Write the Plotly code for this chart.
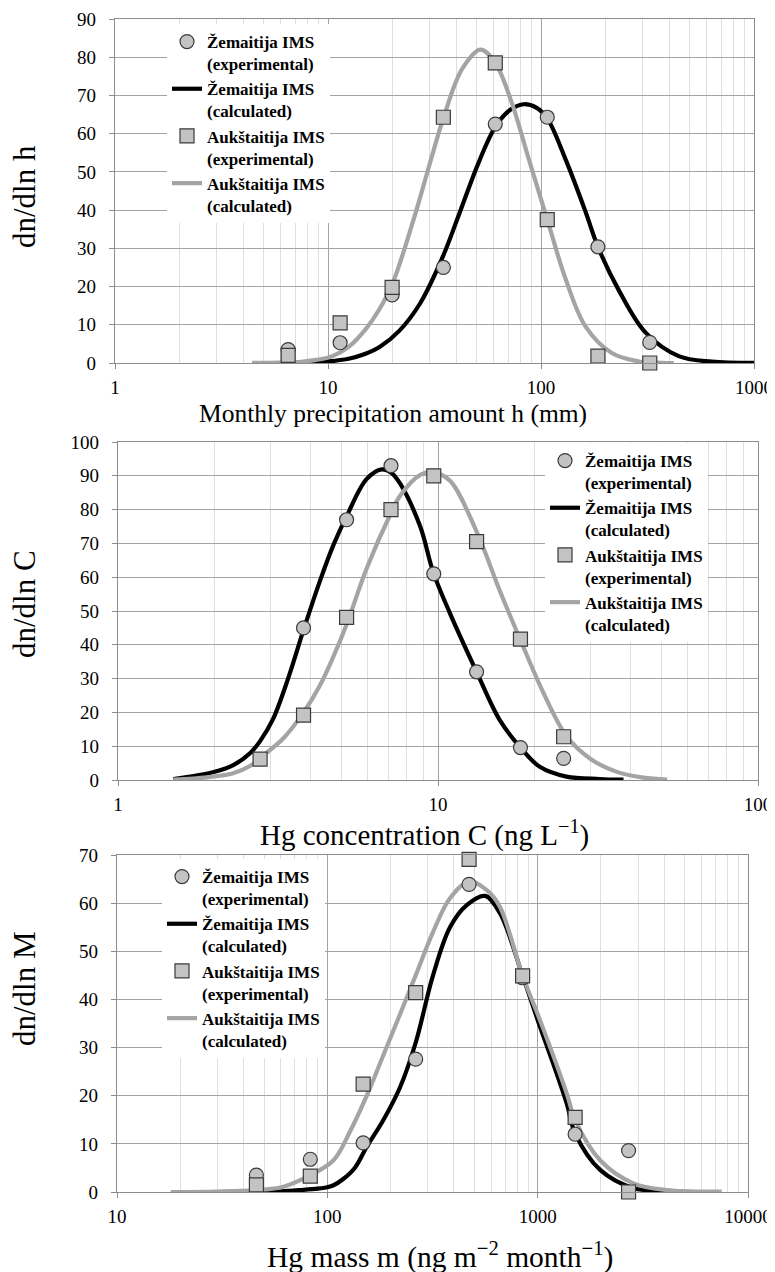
import plotly.graph_objects as go

# ---------------- data ----------------
# Panel 1: monthly precipitation amount h (mm)
h_exp_x = [6.5, 11.4, 20, 34.8, 61, 107, 185, 324]
zem_h_exp = [3.5, 5.3, 17.8, 25.0, 62.5, 64.3, 30.4, 5.4]
auk_h_exp = [2.0, 10.5, 19.8, 64.3, 78.5, 37.5, 1.8, 0.0]

zem_h_calc_x = [6.5, 8, 10, 12.5, 15, 17.4, 21.6, 27, 34.4, 41.3, 51, 61, 72, 83, 95, 107,
                131, 162, 185, 232, 309, 443, 634, 1000]
zem_h_calc = [0.0, 0.1, 0.4, 1.1, 2.4, 4.1, 8.4, 15.5, 27.5, 39.0, 52.5, 61.8, 66.3, 67.7, 66.8, 64.0,
              53.0, 39.5, 30.4, 19.0, 8.0, 1.8, 0.35, 0.02]

auk_h_calc_x = [4.4, 6, 7.5, 8.8, 10.5, 12.5, 15.1, 17.4, 20, 24.9, 30, 35, 42.7, 52, 61, 73,
                88, 107, 131, 162, 215, 288, 369, 420]
auk_h_calc = [0.05, 0.1, 0.3, 0.8, 1.8, 4.2, 9.0, 14.0, 20.5, 36.5, 52.0, 64.5, 77.0, 82.0, 78.5, 68.0,
              53.0, 37.5, 21.7, 9.5, 2.6, 0.4, 0.05, 0.0]

# Panel 2: Hg concentration C (ng/L)
c_exp_x = [2.78, 3.8, 5.18, 7.13, 9.7, 13.2, 18.1, 24.7]
zem_c_exp = [None, 45.0, 77.0, 93.0, 61.0, 32.0, 9.6, 6.4]
auk_c_exp = [6.2, 19.2, 48.1, 80.0, 90.0, 70.5, 41.7, 12.8]

zem_c_calc_x = [1.49, 1.98, 2.3, 2.59, 2.78, 3.05, 3.4, 3.8, 4.28, 4.71, 5.18, 5.98, 6.67, 7.13, 7.6,
                8.8, 9.66, 10.9, 13.2, 15.6, 18.1, 20.8, 25.2, 32, 38]
zem_c_calc = [0.3, 2.3, 4.5, 8.0, 11.5, 18.0, 30.0, 44.4, 59.0, 69.5, 78.0, 89.0, 91.9, 91.0, 87.8,
              75.0, 61.5, 49.3, 32.0, 17.7, 9.6, 3.9, 1.0, 0.3, 0.1]

auk_c_calc_x = [1.49, 1.9, 2.29, 2.6, 2.91, 3.3, 3.8, 4.25, 4.71, 5.18, 5.98, 7.13, 7.6, 8.8, 9.66,
                10.9, 13.2, 15.6, 18.1, 21.3, 25.2, 29.9, 36.2, 43.8, 52]
auk_c_calc = [0.1, 0.8, 2.0, 4.3, 8.0, 12.5, 20.0, 27.5, 36.5, 46.0, 62.5, 79.0, 84.0, 90.3, 91.0,
              88.5, 73.5, 56.0, 41.4, 26.0, 13.0, 6.3, 2.4, 0.7, 0.15]

# Panel 3: Hg mass m (ng m-2 month-1)
m_exp_x = [46, 83, 148, 263, 472, 848, 1507, 2705]
zem_m_exp = [3.5, 6.8, 10.2, 27.6, 63.9, 44.5, 12.0, 8.6]
auk_m_exp = [1.5, 3.3, 22.4, 41.4, 69.1, 44.9, 15.5, 0.0]

zem_m_calc_x = [46, 60, 74, 90, 100, 107, 119, 135, 154, 185, 222, 263, 318, 383, 460, 563, 662,
                848, 1026, 1200, 1374, 1507, 1982, 2853, 3600, 4570]
zem_m_calc = [0.0, 0.15, 0.4, 0.7, 1.0, 1.4, 2.7, 5.0, 9.4, 15.0, 21.8, 31.0, 45.0, 55.0, 59.6, 61.5, 57.9,
              44.9, 34.3, 26.0, 18.4, 12.2, 4.6, 0.8, 0.3, 0.1]

auk_m_calc_x = [18, 30, 46, 61.8, 83, 107, 128, 154, 185, 222, 263, 318, 383, 472, 573, 662,
                848, 1026, 1374, 1507, 1982, 2853, 4110, 7500]
auk_m_calc = [0.0, 0.1, 0.4, 1.1, 3.5, 6.6, 12.5, 20.0, 28.5, 37.0, 45.0, 54.0, 61.0, 64.5, 62.7, 59.2,
              44.9, 35.7, 20.5, 15.0, 6.6, 1.8, 0.4, 0.1]

# tick labels
x1_ticks = [1, 10, 100, 1000]
x1_labels = ["1", "10", "100", "1000"]
x2_ticks = [1, 10, 100]
x2_labels = ["1", "10", "100"]
x3_ticks = [10, 100, 1000, 10000]
x3_labels = ["10", "100", "1000", "10000"]
y1_ticks = [0, 10, 20, 30, 40, 50, 60, 70, 80, 90]
y2_ticks = [0, 10, 20, 30, 40, 50, 60, 70, 80, 90, 100]
y3_ticks = [0, 10, 20, 30, 40, 50, 60, 70]

names = ["Žemaitija IMS<br>(experimental)", "Žemaitija IMS<br>(calculated)",
         "Aukštaitija IMS<br>(experimental)", "Aukštaitija IMS<br>(calculated)"]

x_titles = ["Monthly precipitation amount h (mm)",
            "Hg concentration C (ng L<sup>−1</sup>)",
            "Hg mass m (ng m<sup>−2</sup> month<sup>−1</sup>)"]
y_titles = ["dn/dln h", "dn/dln C", "dn/dln M"]

# ---------------- styling ----------------
OFF = 8                       # page body margin of the saved html
W, H = 775 - OFF, 1272 - OFF  # figure size so that it fits the window
FONT = "Liberation Serif, Times New Roman, serif"
BLACK = "#000000"
GRAY_LINE = "#a4a4a4"
MARKER_FILL = "#c3c3c3"
MARKER_EDGE = "#3a3a3a"
GRID = "#a3a3a3"
MINOR = "#dedede"
FRAME = "#8c8c8c"

def px_x(p):
    return (p - OFF) / W

def px_y(p):
    return 1 - (p - OFF) / H

panels = [
    dict(xd=(115, 754), yd=(19, 363), xr=[0, 3], yr=[0, 90],
         xt=x1_ticks, xl=x1_labels, yt=y1_ticks,
         data=(h_exp_x, zem_h_exp, auk_h_exp, zem_h_calc_x, zem_h_calc, auk_h_calc_x, auk_h_calc),
         leg=(167, 24), xtitle=(393, 414, 25.5), ytitle=(24, 197)),
    dict(xd=(118, 758), yd=(442, 780), xr=[0, 2], yr=[0, 100],
         xt=x2_ticks, xl=x2_labels, yt=y2_ticks,
         data=(c_exp_x, zem_c_exp, auk_c_exp, zem_c_calc_x, zem_c_calc, auk_c_calc_x, auk_c_calc),
         leg=(545, 443), xtitle=(424, 833, 29), ytitle=(24, 604)),
    dict(xd=(117, 748), yd=(855, 1192), xr=[1, 4], yr=[0, 70],
         xt=x3_ticks, xl=x3_labels, yt=y3_ticks,
         data=(m_exp_x, zem_m_exp, auk_m_exp, zem_m_calc_x, zem_m_calc, auk_m_calc_x, auk_m_calc),
         leg=(162, 859), xtitle=(440, 1255, 29.5), ytitle=(24, 989)),
]

fig = go.Figure()
layout = dict(template="none", width=W, height=H, margin=dict(l=0, r=0, t=0, b=0, autoexpand=False),
              paper_bgcolor="white", plot_bgcolor="white", showlegend=True,
              font=dict(family=FONT, color="black"))
annotations = []

for i, p in enumerate(panels):
    n = i + 1
    xa = "x" if n == 1 else f"x{n}"
    ya = "y" if n == 1 else f"y{n}"
    lg = "legend" if n == 1 else f"legend{n}"
    ex_x, zem_e, auk_e, zc_x, zc, ac_x, ac = p["data"]

    fig.add_trace(go.Scatter(x=zc_x, y=zc, mode="lines", name=names[1], xaxis=xa, yaxis=ya,
                             line=dict(color=BLACK, width=4.2, shape="spline", smoothing=1.0),
                             legend=lg, legendrank=2))
    fig.add_trace(go.Scatter(x=ac_x, y=ac, mode="lines", name=names[3], xaxis=xa, yaxis=ya,
                             line=dict(color=GRAY_LINE, width=4.2, shape="spline", smoothing=1.0),
                             legend=lg, legendrank=4))
    fig.add_trace(go.Scatter(x=ex_x, y=zem_e, mode="markers", name=names[0], xaxis=xa, yaxis=ya,
                             marker=dict(symbol="circle", size=14, color=MARKER_FILL,
                                         line=dict(color=MARKER_EDGE, width=1.2)),
                             cliponaxis=False, legend=lg, legendrank=1))
    fig.add_trace(go.Scatter(x=ex_x, y=auk_e, mode="markers", name=names[2], xaxis=xa, yaxis=ya,
                             marker=dict(symbol="square", size=14, color=MARKER_FILL,
                                         line=dict(color=MARKER_EDGE, width=1.2)),
                             cliponaxis=False, legend=lg, legendrank=3))

    xkey = "xaxis" if n == 1 else f"xaxis{n}"
    ykey = "yaxis" if n == 1 else f"yaxis{n}"
    layout[xkey] = dict(
        type="log", range=p["xr"], anchor=ya, automargin=False,
        domain=[px_x(p["xd"][0]), px_x(p["xd"][1])],
        tickmode="array", tickvals=p["xt"], ticktext=p["xl"],
        showline=True, linecolor=FRAME, linewidth=1.3, mirror=True,
        showgrid=True, gridcolor=GRID, gridwidth=1,
        ticks="outside", ticklen=5, tickcolor=FRAME, ticklabelstandoff=2,
        tickfont=dict(family=FONT, size=19, color="black"),
        minor=dict(dtick="D1", showgrid=True, gridcolor=MINOR, gridwidth=1, ticks=""),
        zeroline=False, fixedrange=True,
    )
    layout[ykey] = dict(
        range=p["yr"], anchor=xa, automargin=False,
        domain=[px_y(p["yd"][1]), px_y(p["yd"][0])],
        tickmode="array", tickvals=p["yt"],
        showline=True, linecolor=FRAME, linewidth=1.3, mirror=True,
        showgrid=True, gridcolor=GRID, gridwidth=1,
        ticks="outside", ticklen=5, tickcolor=FRAME, ticklabelstandoff=9,
        tickfont=dict(family=FONT, size=19, color="black"),
        zeroline=False, fixedrange=True,
    )
    layout[lg] = dict(
        x=px_x(p["leg"][0]), y=px_y(p["leg"][1]), xref="paper", yref="paper",
        xanchor="left", yanchor="top", bgcolor="white", borderwidth=0,
        font=dict(family=FONT, size=17, color="black", weight="bold"),
        valign="top", tracegroupgap=0, itemwidth=30, traceorder="normal",
    )
    tx, ty, ts = p["xtitle"]
    annotations.append(dict(text=x_titles[i], x=px_x(tx), y=px_y(ty), xref="paper", yref="paper",
                            xanchor="center", yanchor="middle", showarrow=False,
                            font=dict(family=FONT, size=ts, color="black")))
    yx, yy = p["ytitle"]
    annotations.append(dict(text=y_titles[i], x=px_x(yx), y=px_y(yy), xref="paper", yref="paper",
                            xanchor="center", yanchor="middle", showarrow=False, textangle=-90,
                            font=dict(family=FONT, size=31, color="black")))

layout["annotations"] = annotations
fig.update_layout(**layout)
fig.write_html("out.html")
